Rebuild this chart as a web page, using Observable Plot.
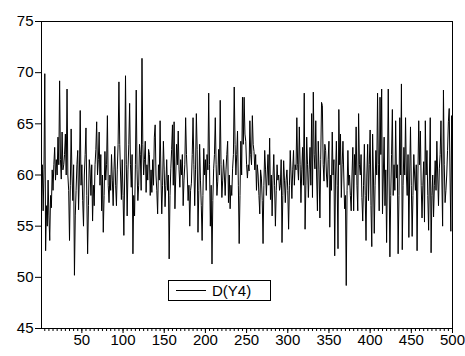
<!DOCTYPE html>
<html>
<head>
<meta charset="utf-8">
<script src="https://cdn.jsdelivr.net/npm/d3@7"></script>
<script src="https://cdn.jsdelivr.net/npm/@observablehq/plot@0.6"></script>
<style>
  html, body { margin: 0; padding: 0; background: #fff; }
  #chart svg { display: block; }
</style>
</head>
<body>
<div id="chart"></div>
<script>
const seriesName = "D(Y4)";
const yTicks = [45, 50, 55, 60, 65, 70, 75];
const xLabelTicks = [50, 100, 150, 200, 250, 300, 350, 400, 450, 500];
const values = [
  58, 61, 56.5, 60.5, 69.9, 52.6, 57, 55, 59.5, 56,
  53.6, 58, 56.8, 60.5, 58.5, 61, 62.7, 59.5, 61.5, 60,
  63.7, 61, 69.2, 61.5, 59.6, 64.2, 60.5, 61, 62, 64,
  60, 68.4, 60, 58.5, 53.6, 59, 64.5, 60, 57.5, 61,
  50.2, 56, 58.5, 61, 62.4, 56.6, 60, 66.3, 59, 61,
  57.5, 55, 60, 62, 64.6, 58, 52.3, 57, 61.5, 60.5,
  58, 61, 55.5, 59, 57, 61, 62.5, 65.2, 60, 61.5,
  64.2, 59, 62, 56.5, 60, 54.4, 58, 62.3, 59.5, 61,
  65.8, 59, 57.3, 60, 58.5, 62, 59.5, 57, 60.5, 62.8,
  59, 57, 60.5, 63, 69.1, 63, 60, 57.6, 61.5, 58,
  54.1, 60, 69.7, 61, 56, 60.5, 63, 67, 61, 58.8,
  62, 52.3, 58, 56, 61, 68.3, 60.5, 57.5, 59, 63,
  62, 58.5, 71.4, 63, 60, 61.5, 63.3, 58.3, 61, 59.5,
  62.5, 62, 58, 60.5, 58.3, 61.5, 59, 63.7, 64.9, 60,
  58.5, 56.2, 61, 59.5, 65.3, 60, 56.2, 59, 63.3, 60.5,
  56.9, 59, 61.5, 58.5, 60, 51.8, 58, 60.6, 62.5, 64.9,
  59, 65.2, 56.7, 60, 63, 61, 64.3, 60.5, 58.8, 61.5,
  60, 62, 57, 59.5, 61, 65.6, 62, 60, 57.5, 59,
  55, 58.5, 59.2, 62, 65.6, 61, 57, 60.5, 66, 62.5,
  54.4, 58.5, 63, 59.5, 57, 53.6, 58, 62.6, 60, 61.5,
  58.5, 62, 60.5, 68, 61, 55, 59, 51.3, 57.5, 60.6,
  62, 65.6, 61, 58, 59.4, 62.5, 60, 67.3, 61, 57.8,
  59.5, 61.5, 60, 58, 60.5, 62, 63.3, 57.3, 60, 56.7,
  59, 58, 60.6, 62, 68.6, 63, 60, 62, 64.3, 59,
  53.3, 58, 63.3, 60, 67.6, 63, 67.6, 64, 63.3, 61,
  59.7, 61, 60.4, 65.3, 62, 61, 65.8, 63, 62.3, 60.5,
  62, 58.5, 61, 60, 58, 56.2, 60.5, 59.7, 57.5, 53.3,
  59, 62.4, 60.5, 58, 60, 62, 59, 63.6, 57.6, 60,
  56, 59.5, 62, 59, 55, 58.5, 61, 59.5, 60, 58.5,
  59, 61.5, 53.4, 58, 61.4, 59.5, 57.3, 59.5, 60.5, 58.5,
  54.7, 59, 62.4, 60, 57.7, 60.5, 62.4, 59, 61, 60.5,
  65.6, 61, 59.5, 64.7, 61, 57.3, 60.5, 62.7, 59, 68,
  54.7, 59, 63.7, 61, 57.8, 60.5, 62.7, 59, 66, 57.8,
  68.1, 62, 60.6, 65.3, 60, 56.5, 63.3, 60.5, 55.8, 61.5,
  67.1, 66.8, 61, 59.4, 63, 62.4, 60, 58.8, 61.5, 63.3,
  54.9, 60, 58.5, 64.2, 60, 61.5, 52.1, 60, 63.3, 59,
  52.8, 66.4, 61, 64, 57.8, 61, 63.3, 60, 56.7, 58,
  49.2, 58.5, 62.4, 59, 60, 58, 56.5, 60, 62.7, 56.5,
  62, 60, 64.7, 59, 56.5, 66, 61, 60, 62, 57.8,
  55.5, 59, 63, 58, 53.6, 60, 63, 57.5, 61, 64.4,
  57, 53, 64, 60, 54.3, 59, 62.4, 60, 68, 61,
  56.5, 67.6, 62, 68.4, 56.2, 60, 63.7, 57, 60.5, 53.4,
  60, 68.4, 60, 52, 58, 62, 66.4, 58, 61, 58.5,
  65.3, 59.7, 61, 52.3, 58, 65.6, 60, 68.9, 52.7, 59,
  62.7, 60, 65.6, 60, 58, 62, 53.9, 60, 64.7, 59,
  54, 58, 62, 60, 58.5, 61, 52.6, 60, 65.3, 61,
  64.3, 59, 55.8, 59, 61.3, 55.4, 65.3, 60, 62.4, 58,
  54.6, 60, 65.6, 52.4, 58, 60, 55.9, 59, 61.4, 58.5,
  63.3, 60, 57, 60.6, 62, 65.3, 60, 55, 68.3, 61,
  57.3, 58.5, 60, 62.4, 65.2, 66.5, 60, 54.5, 65.8, 57.8
];
const data = values.map((v, i) => ({obs: i + 1, value: v}));
const minorTicks = d3.range(5, 501, 5);

const chart = Plot.plot({
  width: 465,
  height: 356,
  marginLeft: 41,
  marginRight: 13,
  marginTop: 21,
  marginBottom: 28,
  style: {fontFamily: "'Liberation Sans', Arial, sans-serif", fontSize: "15px", color: "#000", background: "#fff"},
  x: {domain: [1, 500]},
  y: {domain: [45, 75]},
  marks: [
    Plot.lineY(data, {x: "obs", y: "value", stroke: "#000", strokeWidth: 1}),
    Plot.frame({stroke: "#000", strokeWidth: 1}),
    Plot.axisY({ticks: yTicks, tickSize: 6, tickPadding: 2, fontSize: 15, label: null, stroke: "#000"}),
    Plot.axisX({ticks: minorTicks, tickSize: 3, text: null, label: null, stroke: "#000"}),
    Plot.axisX({ticks: xLabelTicks, tickSize: 5, tickPadding: 1, fontSize: 15, label: null, stroke: "#000"})
  ]
});
document.getElementById("chart").appendChild(chart);

// legend box inside the plot
const svg = d3.select(chart);
const g = svg.append("g").attr("class", "legend").attr("text-anchor", "start");
g.append("rect").attr("x", 168.5).attr("y", 280.5).attr("width", 102).attr("height", 20)
  .attr("fill", "#fff").attr("stroke", "#000").attr("stroke-width", 1);
g.append("line").attr("x1", 176).attr("x2", 206).attr("y1", 290.5).attr("y2", 290.5)
  .attr("stroke", "#000").attr("stroke-width", 1);
g.append("text").attr("x", 212).attr("y", 296).attr("font-size", 15).attr("text-anchor", "start")
  .attr("font-family", "'Liberation Sans', Arial, sans-serif").attr("fill", "#000").text(seriesName);
</script>
</body>
</html>
